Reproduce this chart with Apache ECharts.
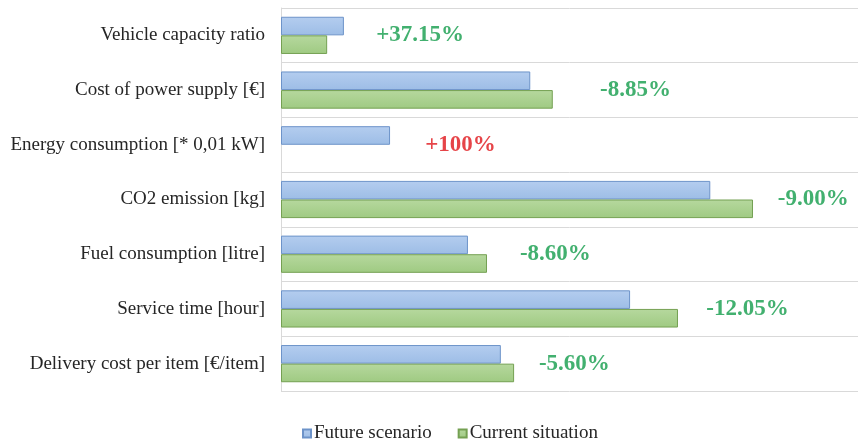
<!DOCTYPE html>
<html>
<head>
<meta charset="utf-8">
<script src="https://cdn.jsdelivr.net/npm/echarts@6/dist/echarts.min.js"></script>
<style>
  html, body { margin: 0; padding: 0; background: #fff; }
  #chart { width: 858px; height: 443px; }
</style>
</head>
<body>
<div id="chart"></div>
<script>
// categories, top to bottom
const categories = [
  'Vehicle capacity ratio',
  'Cost of power supply [€]',
  'Energy consumption [* 0,01 kW]',
  'CO2 emission [kg]',
  'Fuel consumption [litre]',
  'Service time [hour]',
  'Delivery cost per item [€/item]'
]

// bar lengths, as % of the plot width (no axis labels in the original)
const futureScenario = [10.9, 43.2, 18.9, 74.4, 32.4, 60.5, 38.1]
const currentSituation = [8.0, 47.1, null, 81.8, 35.7, 68.8, 40.4]

// change labels and where they sit along the value axis
const changeLabels = ['+37.15%', '-8.85%', '+100%', '-9.00%', '-8.60%', '-12.05%', '-5.60%']
const changeLabelX = [16.5, 55.3, 25.0, 86.1, 41.4, 73.7, 44.7]

const serif = '"Liberation Serif", "DejaVu Serif", serif'

const gradient = (top, bottom) => new echarts.graphic.LinearGradient(0, 0, 0, 1, [
  { offset: 0, color: top },
  { offset: 1, color: bottom }
])

const chart = echarts.init(document.getElementById('chart'))

chart.setOption({
  backgroundColor: '#fff',
  animation: false,
  grid: { left: 281, right: 0, top: 8, bottom: 52 },
  legend: {
    top: 419,
    left: 297,
    itemWidth: 8,
    itemHeight: 8,
    itemGap: 26,
    icon: 'rect',
    textStyle: { fontFamily: serif, fontSize: 19, color: '#262626', padding: [0, 0, 0, -2] },
    data: ['Future scenario', 'Current situation']
  },
  xAxis: {
    type: 'value',
    min: 0,
    max: 100,
    axisLabel: { show: false },
    axisLine: { show: false },
    axisTick: { show: false },
    splitLine: { show: false }
  },
  yAxis: {
    type: 'category',
    inverse: true,
    data: categories,
    axisLine: { show: true, lineStyle: { color: '#d9d9d9' } },
    axisTick: { show: false },
    splitLine: { show: true, lineStyle: { color: '#d9d9d9' } },
    axisLabel: { fontFamily: serif, fontSize: 19, color: '#262626', margin: 16 }
  },
  series: [
    {
      name: 'Future scenario',
      type: 'bar',
      barGap: '0%',
      barCategoryGap: '32%',
      data: futureScenario,
      itemStyle: {
        color: gradient('#b4cdef', '#9dbde6'),
        borderColor: '#6d93c9',
        borderWidth: 1
      }
    },
    {
      name: 'Current situation',
      type: 'bar',
      data: currentSituation,
      itemStyle: {
        color: gradient('#b6d89e', '#9fca82'),
        borderColor: '#74a052',
        borderWidth: 1
      }
    },
    {
      type: 'scatter',
      symbolSize: 0,
      silent: true,
      data: changeLabelX.map((x, i) => ({
        value: [x, categories[i]],
        label: {
          show: true,
          position: 'right',
          distance: 0,
          formatter: changeLabels[i],
          fontFamily: serif,
          fontWeight: 'bold',
          fontSize: 23,
          color: changeLabels[i] === '+100%' ? '#e0151a' : '#139c4b'
        }
      }))
    }
  ]
})
</script>
</body>
</html>
